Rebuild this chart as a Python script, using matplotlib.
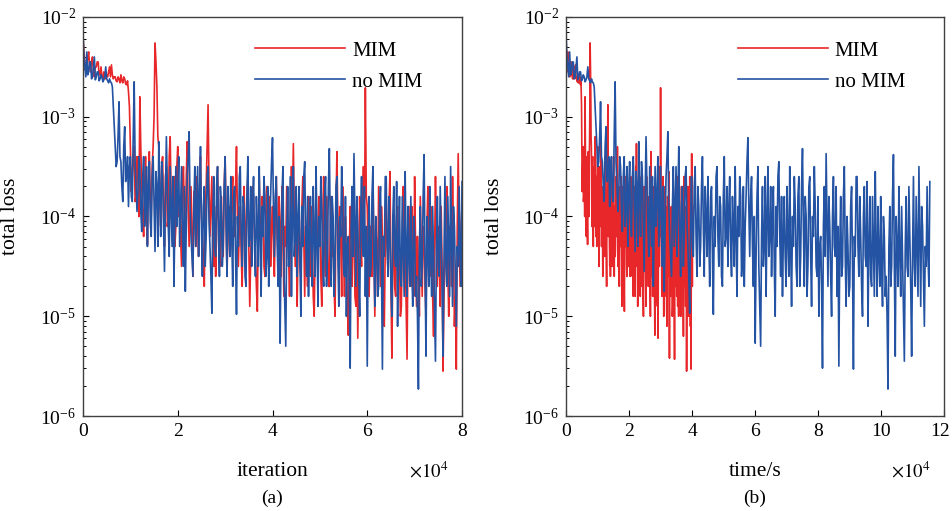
import numpy as np
import matplotlib
matplotlib.use('Agg')
import matplotlib.pyplot as plt
import matplotlib.transforms as mtransforms
from matplotlib.ticker import FuncFormatter, LogLocator, NullFormatter

plt.rcParams['font.family'] = ['Liberation Serif', 'DejaVu Serif']
plt.rcParams['mathtext.fontset'] = 'stix'

# iterations sampled every 200 steps
iteration = np.arange(0, 80001, 200)

# wall-clock time reached at the last iteration (s)
mim_total_time = 4.03e4
nomim_total_time = 11.55e4

# log10(total loss), 20 values per 4000 iterations
log_loss_mim = [
    -2.2, -2.35, -2.45, -2.55, -2.5, -2.4, -2.35, -2.5, -2.55, -2.45, -2.4, -2.55, -2.6, -2.5, -2.5, -2.45, -2.45, -2.58, -2.58, -2.5,
    -2.6, -2.62, -2.55, -2.6, -2.62, -2.58, -2.6, -2.55, -2.5, -2.6, -2.48, -2.58, -2.62, -2.6, -2.6, -2.64, -2.65, -2.6, -2.62, -2.66,
    -2.58, -2.64, -2.66, -2.6, -2.62, -2.67, -2.68, -2.64, -2.75, -2.9, -3.3, -3.75, -3.6, -3.4, -3.3, -3.85, -3.8, -3.4, -3.55, -4.0,
    -2.8, -3.3, -3.7, -4.0, -4.2, -3.7, -3.4, -4.0, -4.28, -3.6, -3.35, -3.85, -4.0, -3.5, -3.3, -3.0, -2.26, -2.45, -2.7, -3.2,
    -3.3, -3.8, -4.1, -3.5, -3.4, -3.95, -4.3, -3.6, -3.5, -4.1, -4.0, -3.4, -3.2, -3.8, -4.2, -3.8, -3.6, -4.3, -4.1, -3.5,
    -3.3, -4.0, -3.9, -4.2, -4.5, -3.7, -3.5, -4.0, -4.1, -3.6, -3.25, -3.9, -4.3, -4.0, -3.7, -4.2, -4.6, -3.75, -4.0, -4.3,
    -3.6, -4.1, -4.4, -3.7, -3.4, -4.0, -4.2, -4.4, -4.7, -3.9, -3.7, -3.3, -2.88, -3.7, -4.2, -3.9, -3.6, -4.3, -4.5, -3.9,
    -4.6, -4.1, -3.5, -4.0, -4.2, -4.5, -3.8, -4.2, -4.4, -3.7, -3.4, -4.0, -4.6, -4.1, -3.9, -4.4, -4.3, -3.8, -3.6, -4.2,
    -4.2, -3.7, -3.3, -4.0, -4.5, -4.1, -3.9, -4.4, -4.7, -4.0, -3.7, -4.2, -4.3, -3.8, -3.6, -4.3, -4.9, -4.4, -4.0, -3.7,
    -3.8, -4.2, -4.4, -4.7, -4.95, -4.1, -3.6, -4.1, -4.3, -3.8, -3.9, -4.5, -4.6, -4.0, -3.7, -4.3, -4.2, -3.8, -4.5, -4.1,
    -3.9, -4.3, -4.6, -3.9, -3.6, -4.2, -4.4, -3.8, -4.1, -4.6, -3.7, -4.2, -4.8, -4.1, -4.3, -3.7, -3.8, -4.4, -4.8, -4.1,
    -3.5, -3.9, -3.27, -4.0, -4.5, -4.1, -4.9, -4.3, -3.9, -4.5, -4.6, -3.9, -3.6, -4.2, -4.8, -4.1, -4.2, -4.7, -3.8, -4.3,
    -4.6, -3.9, -4.2, -4.8, -5.0, -4.3, -3.7, -4.2, -4.5, -3.8, -3.9, -4.6, -4.9, -4.1, -3.6, -4.3, -4.6, -3.8, -4.1, -4.7,
    -4.7, -4.1, -3.8, -4.4, -4.3, -4.7, -5.0, -3.9, -3.35, -4.1, -4.6, -3.9, -4.2, -4.8, -3.7, -4.3, -4.8, -4.0, -4.4, -4.9,
    -5.19, -4.4, -3.9, -4.6, -4.7, -3.9, -4.1, -4.8, -4.9, -4.2, -5.22, -4.5, -3.8, -4.3, -4.5, -3.9, -3.5, -4.2, -2.71, -3.8,
    -3.9, -4.4, -4.8, -4.1, -4.1, -4.6, -3.6, -4.3, -5.0, -4.1, -4.3, -4.8, -3.7, -4.2, -4.7, -3.9, -4.2, -4.9, -5.1, -4.3,
    -3.8, -4.3, -4.6, -3.9, -3.55, -4.7, -5.42, -4.4, -4.1, -4.7, -4.8, -4.0, -3.9, -4.6, -4.4, -5.0, -4.9, -4.2, -3.7, -4.4,
    -4.3, -4.9, -5.43, -4.3, -3.9, -4.4, -4.7, -3.9, -4.1, -4.8, -3.6, -4.3, -4.9, -4.2, -4.5, -5.0, -3.8, -4.3, -4.8, -4.1,
    -4.2, -4.7, -5.0, -4.1, -3.7, -4.3, -4.6, -3.9, -4.1, -4.8, -5.2, -4.4, -3.6, -4.2, -4.7, -4.1, -4.3, -4.9, -3.9, -4.5,
    -5.55, -4.8, -4.4, -3.9, -3.7, -4.5, -5.0, -4.1, -4.2, -4.7, -3.6, -4.3, -5.1, -4.8, -5.53, -4.1, -3.37, -4.2, -4.7, -4.1,
    -3.9,
]

log_loss_nomim = [
    -2.15, -2.4, -2.5, -2.6, -2.35, -2.58, -2.55, -2.45, -2.45, -2.62, -2.6, -2.5, -2.4, -2.63, -2.6, -2.55, -2.55, -2.64, -2.62, -2.58,
    -2.6, -2.65, -2.63, -2.6, -2.5, -2.62, -2.64, -2.66, -2.62, -2.65, -2.66, -2.7, -2.9, -3.1, -3.3, -3.5, -3.45, -3.2, -2.85, -3.4,
    -3.45, -3.7, -3.85, -3.3, -3.1, -3.65, -3.6, -3.4, -3.9, -3.5, -3.4, -3.8, -3.85, -3.2, -2.65, -3.45, -3.7, -3.95, -3.75, -3.4,
    -3.5, -3.95, -4.15, -3.6, -3.4, -4.1, -3.9, -3.5, -4.3, -3.7, -3.45, -4.05, -4.2, -3.6, -3.4, -3.9, -4.35, -3.55, -3.7, -4.3,
    -3.25, -3.8, -4.2, -3.45, -3.6, -4.1, -4.55, -3.8, -3.2, -3.7, -4.1, -4.4, -3.5, -3.9, -4.3, -3.6, -4.7, -4.0, -3.5, -4.1,
    -3.8, -3.4, -4.3, -3.9, -3.5, -4.2, -4.5, -3.7, -4.75, -4.1, -3.6, -3.4, -3.15, -3.9, -4.2, -4.4, -4.6, -3.9, -3.5, -4.3,
    -3.9, -3.5, -4.4, -3.8, -3.3, -4.1, -4.6, -3.9, -3.7, -4.5, -4.2, -3.6, -3.5, -4.05, -4.3, -4.6, -4.97, -4.0, -3.6, -4.3,
    -4.4, -3.7, -3.5, -4.2, -4.6, -3.7, -3.9, -4.5, -4.3, -3.7, -3.4, -4.1, -4.6, -3.7, -4.0, -4.4, -3.6, -4.2, -4.7, -3.8,
    -3.7, -4.4, -4.98, -4.0, -4.3, -3.6, -3.5, -4.2, -4.5, -3.8, -3.9, -4.6, -4.7, -3.8, -3.4, -4.3, -4.2, -3.7, -4.5, -3.9,
    -3.6, -4.3, -4.6, -3.8, -4.1, -4.5, -3.5, -4.2, -4.8, -3.9, -4.2, -3.6, -3.8, -4.6, -4.4, -3.7, -4.7, -4.1, -3.8, -3.45,
    -3.21, -3.9, -4.4, -3.8, -3.6, -4.3, -4.7, -4.0, -5.27, -4.4, -3.8, -3.5, -4.5, -4.9, -5.3, -4.2, -3.7, -4.5, -4.3, -3.6,
    -4.8, -4.0, -3.5, -4.4, -4.2, -3.7, -4.6, -4.0, -3.7, -4.5, -5.0, -3.9, -4.3, -3.6, -3.45, -4.2, -4.6, -3.8, -4.8, -4.2,
    -3.8, -4.4, -4.7, -3.7, -4.2, -4.6, -3.5, -4.3, -4.9, -4.0, -4.3, -3.6, -3.9, -4.5, -4.7, -3.8, -3.6, -4.7, -4.4, -3.7,
    -3.32, -4.1, -4.7, -3.8, -4.0, -4.8, -4.5, -3.7, -3.6, -4.4, -4.9, -4.0, -4.2, -3.5, -3.9, -4.5, -4.6, -3.8, -5.0, -4.3,
    -4.2, -4.7, -5.52, -4.1, -3.7, -4.4, -3.37, -4.0, -4.7, -3.8, -4.1, -4.6, -5.0, -4.0, -3.6, -4.3, -4.4, -3.7, -4.8, -4.1,
    -5.5, -4.3, -3.8, -4.6, -4.5, -3.8, -3.5, -4.4, -4.9, -4.0, -4.3, -4.8, -4.7, -3.9, -3.7, -4.5, -5.53, -4.2, -4.4, -3.6,
    -3.6, -4.3, -4.6, -3.8, -4.2, -4.7, -5.0, -4.0, -3.7, -4.4, -4.5, -3.65, -5.1, -4.3, -3.8, -4.6, -4.7, -3.8, -4.3, -4.8,
    -3.55, -4.3, -4.8, -3.9, -4.4, -4.7, -3.8, -4.5, -4.9, -4.0, -4.2, -4.8, -4.6, -5.0, -5.73, -4.3, -3.9, -4.7, -4.5, -3.8,
    -3.38, -4.5, -5.4, -4.0, -4.3, -4.7, -3.7, -4.4, -4.8, -3.9, -4.4, -4.9, -5.45, -4.3, -3.8, -4.5, -4.6, -3.7, -4.2, -4.7,
    -5.4, -4.4, -3.6, -4.5, -4.7, -3.8, -4.3, -4.8, -3.5, -4.2, -4.9, -3.9, -4.1, -4.6, -5.1, -4.3, -4.5, -3.7, -4.4, -4.7,
    -3.65,
]

loss_mim = 10 ** np.array(log_loss_mim)
loss_nomim = 10 ** np.array(log_loss_nomim)
time_mim = iteration / iteration[-1] * mim_total_time
time_nomim = iteration / iteration[-1] * nomim_total_time

red = '#e8272a'
blue = '#2453a3'

fig = plt.figure(figsize=(9.52, 5.11), dpi=100)
ax1 = fig.add_axes([83 / 952, 95 / 511, 379 / 952, 399 / 511])
ax2 = fig.add_axes([566 / 952, 95 / 511, 378 / 952, 399 / 511])


def style(ax, xmax, xlabel, panel):
    ax.set_yscale('log')
    ax.set_ylim(1e-6, 1e-2)
    ax.set_xlim(0, xmax)
    ax.set_xticks(np.arange(0, xmax + 1, 2e4))
    ax.xaxis.set_major_formatter(FuncFormatter(lambda v, p: f'{v / 1e4:g}'))
    ax.yaxis.set_minor_locator(LogLocator(base=10, subs=np.arange(2, 10)))
    ax.yaxis.set_minor_formatter(NullFormatter())
    ax.tick_params(which='both', direction='in', labelsize=14, top=False, right=False)
    ax.tick_params(which='major', length=4, width=0.8, pad=5)
    ax.tick_params(which='minor', length=2.5, width=0.7)
    for s in ax.spines.values():
        s.set_color('#404040')
        s.set_linewidth(1.0)
    ax.set_ylabel('total loss', fontsize=15.5)
    ax.yaxis.set_label_coords(-0.165, 0.5)
    ax.text(0.5, -0.14, xlabel, transform=ax.transAxes, ha='center', va='center', fontsize=15.5)
    ax.text(0.963, -0.14, r'$\times 10^4$', transform=ax.transAxes, ha='right', va='center', fontsize=13.5)
    ax.text(0.5, -0.206, panel, transform=ax.transAxes, ha='center', va='center', fontsize=14)
    ax.legend(loc='upper left', bbox_to_anchor=(0.455, 0.94), frameon=False, fontsize=15,
              handlelength=4.3, handletextpad=0.35, labelspacing=0.55,
              borderpad=0, borderaxespad=0)


ax1.plot(iteration, loss_mim, color=red, lw=1.2, label='MIM')
ax1.plot(iteration, loss_nomim, color=blue, lw=1.2, label='no MIM')
style(ax1, 8e4, 'iteration', '(a)')

ax2.plot(time_mim, loss_mim, color=red, lw=1.2, label='MIM')
ax2.plot(time_nomim, loss_nomim, color=blue, lw=1.2, label='no MIM')
style(ax2, 12e4, 'time/s', '(b)')

# keep the "12" label inside the figure edge
last = ax2.xaxis.get_major_ticks()[-1].label1
last.set_transform(last.get_transform() + mtransforms.ScaledTranslation(-3 / 72, 0, fig.dpi_scale_trans))

fig.savefig('out.png', dpi=100)
